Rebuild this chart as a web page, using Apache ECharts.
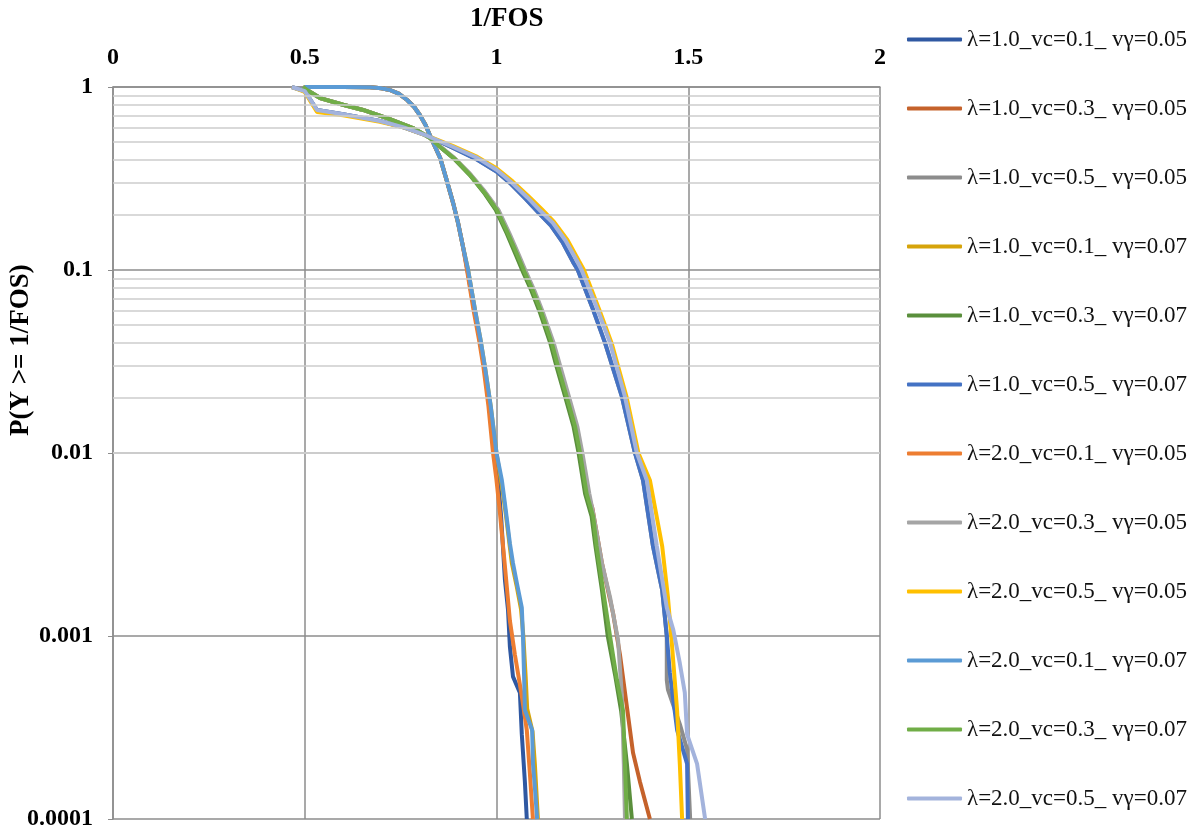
<!DOCTYPE html>
<html>
<head>
<meta charset="utf-8">
<script src="https://cdn.jsdelivr.net/npm/echarts@6/dist/echarts.min.js"></script>
<style>
  html, body { margin: 0; padding: 0; background: #fff; }
  #chart { width: 1202px; height: 834px; }
</style>
</head>
<body>
<div id="chart"></div>
<script>
// legend names, in legend order
const names = [
  'λ=1.0_vc=0.1_ vγ=0.05', 'λ=1.0_vc=0.3_ vγ=0.05', 'λ=1.0_vc=0.5_ vγ=0.05',
  'λ=1.0_vc=0.1_ vγ=0.07', 'λ=1.0_vc=0.3_ vγ=0.07', 'λ=1.0_vc=0.5_ vγ=0.07',
  'λ=2.0_vc=0.1_ vγ=0.05', 'λ=2.0_vc=0.3_ vγ=0.05', 'λ=2.0_vc=0.5_ vγ=0.05',
  'λ=2.0_vc=0.1_ vγ=0.07', 'λ=2.0_vc=0.3_ vγ=0.07', 'λ=2.0_vc=0.5_ vγ=0.07'
];
const colors = ['#2F58A2', '#C5622B', '#8C8C8C', '#D6A40A', '#5A8F3C', '#4472C4',
                '#ED7D31', '#A5A5A5', '#FFC000', '#5B9BD5', '#70AD47', '#A3B3DC'];

// [1/FOS, P(Y >= 1/FOS)]
// vc = 0.1
const s1 = [[0.50,1],[0.60,1],[0.67,0.998],[0.70,0.985],[0.722,0.963],[0.745,0.92],[0.767,0.849],[0.785,0.78],[0.80,0.703],[0.815,0.62],[0.827,0.54],[0.84,0.47],[0.853,0.41],[0.87,0.31],[0.887,0.232],[0.90,0.18],[0.913,0.133],[0.924,0.1],[0.942,0.0606],[0.956,0.042],[0.968,0.0294],[0.982,0.0175],[0.995,0.01],[1.004,0.0071],[1.012,0.0045],[1.022,0.00202],[1.030,0.00139],[1.035,0.00087],[1.043,0.0006],[1.061,0.00049],[1.066,0.00029],[1.074,0.00016],[1.079,0.0001]];
const s4 = [[0.50,1],[0.60,1],[0.67,0.998],[0.70,0.985],[0.722,0.963],[0.745,0.92],[0.767,0.849],[0.785,0.78],[0.80,0.703],[0.815,0.62],[0.827,0.54],[0.84,0.47],[0.853,0.41],[0.87,0.31],[0.887,0.232],[0.90,0.18],[0.913,0.133],[0.926,0.1],[0.944,0.0606],[0.958,0.042],[0.970,0.0294],[0.985,0.018],[1.0,0.01],[1.016,0.0062],[1.025,0.0045],[1.040,0.0025],[1.052,0.0019],[1.064,0.0014],[1.070,0.001],[1.076,0.0006],[1.080,0.0004],[1.094,0.0003],[1.100,0.0002],[1.108,0.0001]];
const s7 = [[0.50,1],[0.60,1],[0.67,0.998],[0.70,0.985],[0.722,0.963],[0.745,0.92],[0.767,0.849],[0.785,0.78],[0.80,0.703],[0.815,0.62],[0.827,0.54],[0.84,0.47],[0.853,0.41],[0.87,0.31],[0.887,0.232],[0.90,0.18],[0.913,0.133],[0.923,0.1],[0.940,0.0606],[0.954,0.042],[0.966,0.0294],[0.979,0.018],[0.991,0.01],[1.0,0.0071],[1.009,0.0047],[1.022,0.0024],[1.035,0.00121],[1.048,0.00079],[1.066,0.00047],[1.079,0.000306],[1.087,0.000178],[1.095,0.0001]];
const s10 = [[0.50,1],[0.60,1],[0.67,0.998],[0.70,0.985],[0.722,0.963],[0.745,0.92],[0.767,0.849],[0.785,0.78],[0.80,0.703],[0.815,0.62],[0.827,0.54],[0.84,0.47],[0.853,0.41],[0.87,0.31],[0.887,0.232],[0.90,0.18],[0.913,0.133],[0.926,0.1],[0.944,0.0606],[0.958,0.042],[0.970,0.0294],[0.985,0.018],[1.0,0.01],[1.014,0.0071],[1.022,0.0053],[1.035,0.0032],[1.043,0.0025],[1.053,0.00195],[1.066,0.00143],[1.069,0.001],[1.072,0.0006],[1.074,0.000394],[1.093,0.000306],[1.095,0.000202],[1.100,0.00015],[1.106,0.0001]];
// vc = 0.3
const s2 = [[0.495,1],[0.51,0.95],[0.54,0.87],[0.60,0.80],[0.652,0.749],[0.72,0.67],[0.782,0.597],[0.827,0.526],[0.853,0.472],[0.89,0.407],[0.931,0.333],[0.97,0.265],[1.003,0.213],[1.032,0.158],[1.057,0.12],[1.077,0.0955],[1.097,0.077],[1.120,0.058],[1.146,0.04],[1.163,0.0294],[1.185,0.0203],[1.207,0.0139],[1.220,0.01],[1.237,0.006],[1.25,0.005],[1.275,0.0025],[1.304,0.00133],[1.322,0.00079],[1.340,0.00041],[1.356,0.00023],[1.374,0.00016],[1.400,0.0001]];
const s5 = [[0.495,1],[0.51,0.95],[0.54,0.87],[0.60,0.80],[0.652,0.749],[0.72,0.67],[0.782,0.597],[0.827,0.526],[0.853,0.47],[0.89,0.404],[0.931,0.329],[0.97,0.26],[0.998,0.213],[1.027,0.158],[1.051,0.12],[1.071,0.0955],[1.091,0.077],[1.114,0.058],[1.140,0.04],[1.157,0.0294],[1.179,0.0203],[1.201,0.0139],[1.214,0.01],[1.231,0.006],[1.248,0.0045],[1.258,0.0031],[1.275,0.00178],[1.290,0.001],[1.310,0.0006],[1.325,0.00039],[1.340,0.0002],[1.353,0.0001]];
const s8 = [[0.495,1],[0.51,0.95],[0.54,0.87],[0.60,0.80],[0.652,0.749],[0.72,0.67],[0.782,0.597],[0.827,0.526],[0.853,0.474],[0.89,0.41],[0.931,0.336],[0.97,0.268],[1.005,0.213],[1.034,0.158],[1.059,0.12],[1.079,0.0955],[1.099,0.077],[1.122,0.058],[1.149,0.04],[1.167,0.0294],[1.189,0.0203],[1.211,0.0139],[1.224,0.01],[1.242,0.006],[1.252,0.0047],[1.275,0.0025],[1.296,0.00163],[1.317,0.00095],[1.327,0.00047],[1.332,0.0002],[1.335,0.0001]];
const s11 = [[0.495,1],[0.51,0.95],[0.54,0.87],[0.60,0.80],[0.652,0.749],[0.72,0.67],[0.782,0.597],[0.827,0.526],[0.853,0.47],[0.89,0.407],[0.931,0.331],[0.97,0.263],[1.001,0.213],[1.03,0.158],[1.055,0.12],[1.075,0.0955],[1.095,0.077],[1.118,0.058],[1.144,0.04],[1.161,0.0294],[1.183,0.0203],[1.205,0.0139],[1.218,0.01],[1.235,0.006],[1.252,0.0045],[1.261,0.0031],[1.278,0.00178],[1.296,0.001],[1.314,0.000575],[1.330,0.00039],[1.335,0.0002],[1.340,0.0001]];
// vc = 0.5
const s3 = [[0.466,1],[0.5,0.95],[0.532,0.749],[0.60,0.71],[0.696,0.652],[0.76,0.60],[0.82,0.54],[0.887,0.465],[0.95,0.40],[1.0,0.345],[1.038,0.295],[1.076,0.245],[1.11,0.205],[1.142,0.175],[1.172,0.142],[1.20,0.11],[1.212,0.1],[1.252,0.0606],[1.283,0.04],[1.327,0.0203],[1.361,0.01],[1.382,0.0071],[1.408,0.0031],[1.432,0.00178],[1.444,0.001],[1.444,0.000575],[1.447,0.00051],[1.478,0.00033],[1.497,0.00024],[1.505,0.0001]];
const s6 = [[0.466,1],[0.5,0.95],[0.532,0.749],[0.60,0.71],[0.696,0.652],[0.76,0.60],[0.82,0.54],[0.887,0.465],[0.95,0.40],[1.0,0.345],[1.038,0.295],[1.076,0.245],[1.11,0.205],[1.142,0.175],[1.172,0.142],[1.20,0.11],[1.212,0.1],[1.252,0.0606],[1.283,0.04],[1.327,0.0203],[1.361,0.01],[1.382,0.0071],[1.408,0.0031],[1.432,0.00178],[1.444,0.001],[1.452,0.00063],[1.471,0.000306],[1.497,0.0002],[1.499,0.0001]];
const s9 = [[0.466,1],[0.5,0.94],[0.532,0.73],[0.60,0.70],[0.696,0.645],[0.76,0.60],[0.82,0.54],[0.887,0.475],[0.95,0.415],[1.0,0.36],[1.042,0.305],[1.082,0.255],[1.118,0.215],[1.150,0.183],[1.185,0.146],[1.215,0.112],[1.228,0.1],[1.268,0.0606],[1.300,0.04],[1.339,0.0203],[1.370,0.01],[1.400,0.0071],[1.432,0.0031],[1.447,0.00163],[1.458,0.00087],[1.471,0.00039],[1.478,0.0002],[1.484,0.0001]];
const s12 = [[0.466,1],[0.5,0.95],[0.532,0.749],[0.60,0.71],[0.696,0.652],[0.76,0.60],[0.82,0.54],[0.887,0.47],[0.95,0.41],[1.001,0.352],[1.04,0.30],[1.08,0.25],[1.115,0.21],[1.147,0.181],[1.18,0.145],[1.21,0.112],[1.222,0.1],[1.262,0.062],[1.296,0.04],[1.335,0.0203],[1.366,0.01],[1.392,0.0071],[1.418,0.0031],[1.444,0.00143],[1.461,0.00108],[1.478,0.00071],[1.491,0.00049],[1.497,0.00029],[1.523,0.0002],[1.544,0.0001]];

const seriesData = [s1, s2, s3, s4, s5, s6, s7, s8, s9, s10, s11, s12];

const yTickLabels = ['0.0001', '0.001', '0.01', '0.1', '1'];
// light grid lines inside each decade (2..9)
const minorLines = [];
[0.0001, 0.001, 0.01, 0.1].forEach(function (d) {
  for (let k = 2; k <= 9; k++) minorLines.push({ yAxis: d * k });
});

const serif = '"Liberation Serif", "Times New Roman", serif';
const chart = echarts.init(document.getElementById('chart'));

const series = [{
  name: 'minor',
  type: 'line',
  data: [],
  silent: true,
  z: 1,
  markLine: {
    silent: true,
    symbol: 'none',
    animation: false,
    label: { show: false },
    lineStyle: { color: '#CCCCCC', width: 1.5, type: 'solid' },
    data: minorLines
  }
}];
seriesData.forEach(function (d, i) {
  series.push({
    name: names[i],
    type: 'line',
    data: d,
    showSymbol: false,
    symbol: 'none',
    z: 3,
    lineStyle: { width: 4, color: colors[i] },
    itemStyle: { color: colors[i] }
  });
});

chart.setOption({
  animation: false,
  backgroundColor: '#fff',
  grid: { left: 113, right: 322, top: 87, bottom: 15 },
  legend: {
    data: names,
    orient: 'vertical',
    left: 907,
    top: 28,
    padding: 0,
    itemWidth: 55,
    itemHeight: 4,
    itemGap: 46,
    icon: 'roundRect',
    textStyle: { fontFamily: serif, fontSize: 23, color: '#111', lineHeight: 23 }
  },
  xAxis: {
    type: 'value',
    position: 'top',
    min: 0,
    max: 2,
    interval: 0.5,
    axisLine: { show: true, lineStyle: { color: '#8C8C8C', width: 1.5 } },
    axisTick: { show: false },
    axisLabel: {
      margin: 17,
      fontFamily: serif,
      fontWeight: 'bold',
      fontSize: 24,
      color: '#000'
    },
    splitLine: { show: true, lineStyle: { color: '#8C8C8C', width: 1.5 } }
  },
  yAxis: {
    type: 'log',
    logBase: 10,
    min: 0.0001,
    max: 1,
    axisLine: { show: true, lineStyle: { color: '#8C8C8C', width: 1.5 } },
    axisTick: { show: true, length: 5, lineStyle: { color: '#8C8C8C' } },
    axisLabel: {
      margin: 20,
      fontFamily: serif,
      fontWeight: 'bold',
      fontSize: 24,
      color: '#000',
      formatter: function (v) {
        const idx = Math.round(Math.log10(v)) + 4;
        return yTickLabels[idx] !== undefined ? yTickLabels[idx] : '';
      }
    },
    splitLine: { show: true, lineStyle: { color: '#8C8C8C', width: 1.5 } }
  },
  graphic: [
    {
      type: 'text',
      left: 470,
      top: 6,
      style: { text: '1/FOS', fontFamily: serif, fontWeight: 'bold', fontSize: 27, fill: '#000' }
    },
    {
      type: 'text',
      x: 8,
      y: 436,
      rotation: Math.PI / 2,
      style: { text: 'P(Y >= 1/FOS)', fontFamily: serif, fontWeight: 'bold', fontSize: 27, fill: '#000' }
    }
  ],
  series: series
});
</script>
</body>
</html>
